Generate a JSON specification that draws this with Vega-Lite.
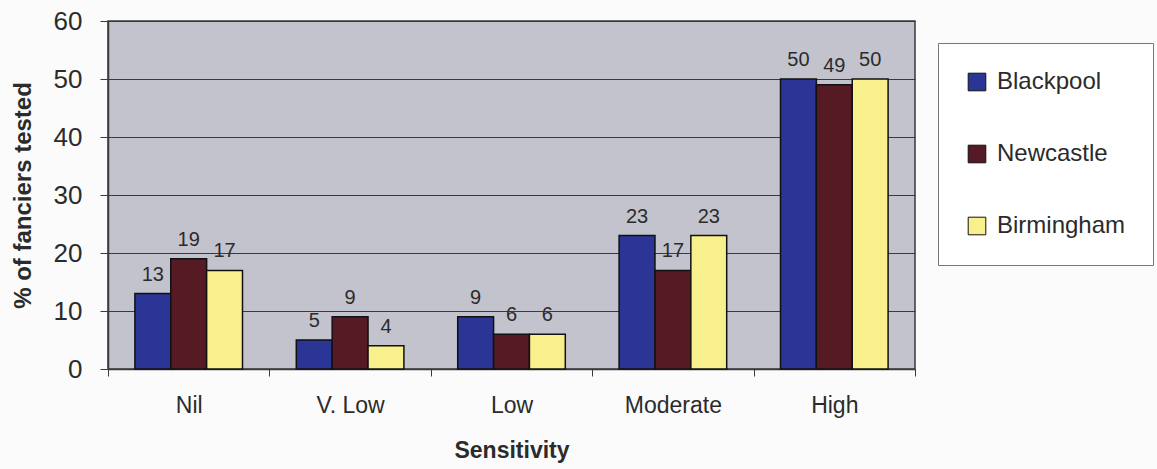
{
  "$schema": "https://vega.github.io/schema/vega-lite/v6.json",
  "width": 807,
  "height": 348,
  "autosize": {"type": "none"},
  "padding": {"left": 108, "top": 21, "right": 242, "bottom": 100},
  "background": "#fbfbfb",
  "config": {
    "font": "Liberation Sans",
    "view": {"fill": "#c3c3cd", "stroke": "#3a3a3a", "strokeWidth": 1.5}
  },
  "data": {
    "values": [
      {"sensitivity": "Nil", "site": "Blackpool", "pct": 13},
      {"sensitivity": "Nil", "site": "Newcastle", "pct": 19},
      {"sensitivity": "Nil", "site": "Birmingham", "pct": 17},
      {"sensitivity": "V. Low", "site": "Blackpool", "pct": 5},
      {"sensitivity": "V. Low", "site": "Newcastle", "pct": 9},
      {"sensitivity": "V. Low", "site": "Birmingham", "pct": 4},
      {"sensitivity": "Low", "site": "Blackpool", "pct": 9},
      {"sensitivity": "Low", "site": "Newcastle", "pct": 6},
      {"sensitivity": "Low", "site": "Birmingham", "pct": 6},
      {"sensitivity": "Moderate", "site": "Blackpool", "pct": 23},
      {"sensitivity": "Moderate", "site": "Newcastle", "pct": 17},
      {"sensitivity": "Moderate", "site": "Birmingham", "pct": 23},
      {"sensitivity": "High", "site": "Blackpool", "pct": 50},
      {"sensitivity": "High", "site": "Newcastle", "pct": 49},
      {"sensitivity": "High", "site": "Birmingham", "pct": 50}
    ]
  },
  "encoding": {
    "x": {
      "field": "sensitivity",
      "type": "nominal",
      "sort": ["Nil", "V. Low", "Low", "Moderate", "High"],
      "scale": {"paddingInner": 0, "paddingOuter": 0},
      "axis": {
        "title": "Sensitivity",
        "titleFontSize": 23,
        "titleFontWeight": "bold",
        "titleColor": "#2b2b2b",
        "titlePadding": 22,
        "labelFontSize": 23,
        "labelColor": "#2b2b2b",
        "labelAngle": 0,
        "labelPadding": 18,
        "tickBand": "extent",
        "tickSize": 7,
        "tickColor": "#3a3a3a",
        "domainColor": "#3a3a3a",
        "domainWidth": 1.5,
        "grid": false
      }
    },
    "xOffset": {
      "field": "site",
      "sort": ["Blackpool", "Newcastle", "Birmingham"],
      "scale": {"paddingInner": 0, "paddingOuter": 0.75}
    },
    "y": {
      "field": "pct",
      "type": "quantitative",
      "scale": {"domain": [0, 60], "nice": false},
      "axis": {
        "title": "% of fanciers tested",
        "titleFontSize": 24,
        "titleFontWeight": "bold",
        "titleColor": "#2b2b2b",
        "titlePadding": 18,
        "labelFontSize": 26,
        "labelColor": "#2b2b2b",
        "labelPadding": 18,
        "values": [0, 10, 20, 30, 40, 50, 60],
        "tickSize": 8,
        "tickColor": "#3a3a3a",
        "domainColor": "#3a3a3a",
        "domainWidth": 1.5,
        "gridColor": "#3a3a3a",
        "gridWidth": 1.2
      }
    }
  },
  "layer": [
    {
      "mark": {"type": "bar", "stroke": "#111111", "strokeWidth": 1.5},
      "encoding": {
        "color": {
          "field": "site",
          "type": "nominal",
          "scale": {
            "domain": ["Blackpool", "Newcastle", "Birmingham"],
            "range": ["#2b3595", "#561a25", "#f7f08c"]
          },
          "legend": {
            "orient": "none",
            "legendX": 830,
            "legendY": 22,
            "title": null,
            "labelFontSize": 24,
            "labelColor": "#2b2b2b",
            "labelOffset": 8,
            "symbolType": "square",
            "symbolSize": 310,
            "symbolStrokeColor": "#111111",
            "symbolStrokeWidth": 1,
            "rowPadding": 48,
            "padding": 27,
            "strokeColor": "#777777",
            "fillColor": "#ffffff"
          }
        }
      }
    },
    {
      "mark": {"type": "text", "dy": -13, "baseline": "alphabetic", "fontSize": 20, "color": "#2b2b2b"},
      "encoding": {"text": {"field": "pct", "type": "quantitative"}}
    }
  ]
}
